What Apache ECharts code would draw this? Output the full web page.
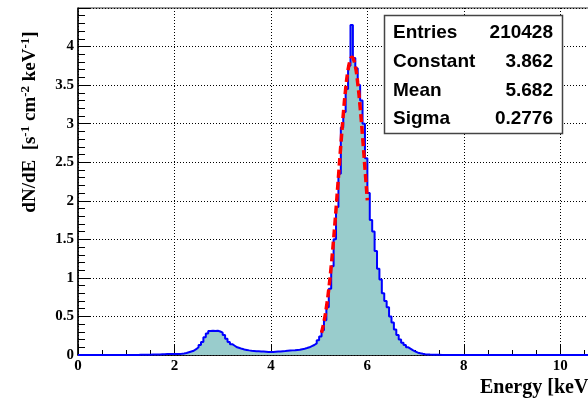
<!DOCTYPE html>
<html>
<head>
<meta charset="utf-8">
<script src="https://cdn.jsdelivr.net/npm/echarts@6/dist/echarts.min.js"></script>
<style>
  html, body { margin: 0; padding: 0; background: #fff; }
  #chart { width: 588px; height: 398px; }
</style>
</head>
<body>
<div id="chart"></div>
<script>
// histogram bins: 0.05 keV wide, starting at 0 keV (one row = 1 keV)
const binStart = 0
const binWidth = 0.05
const counts = [
  0, 0, 0, 0, 0, 0, 0, 0, 0, 0, 0, 0, 0, 0, 0, 0, 0, 0, 0, 0,
  0, 0, 0, 0, 0, 0.002, 0.002, 0.003, 0.003, 0.004, 0.005, 0.006, 0.008, 0.008, 0.01, 0.01, 0.012, 0.012, 0.012, 0.012,
  0.012, 0.014, 0.016, 0.02, 0.025, 0.035, 0.045, 0.055, 0.075, 0.1, 0.13, 0.17, 0.23, 0.28, 0.31, 0.315, 0.31, 0.315, 0.305, 0.29,
  0.26, 0.21, 0.17, 0.14, 0.12, 0.1, 0.09, 0.08, 0.072, 0.066, 0.06, 0.056, 0.053, 0.05, 0.048, 0.046, 0.044, 0.042, 0.04, 0.04,
  0.04, 0.042, 0.044, 0.046, 0.05, 0.052, 0.055, 0.058, 0.06, 0.062, 0.065, 0.068, 0.075, 0.082, 0.09, 0.1, 0.115, 0.13, 0.15, 0.19,
  0.24, 0.32, 0.45, 0.62, 0.86, 1.15, 1.5, 1.92, 2.35, 2.95, 3.15, 3.45, 3.75, 4.28, 3.85, 3.72, 3.5, 3.3, 3.0, 2.55,
  2.1, 1.75, 1.6, 1.35, 1.12, 0.98, 0.8, 0.7, 0.62, 0.5, 0.42, 0.33, 0.26, 0.2, 0.16, 0.13, 0.1, 0.08, 0.06, 0.045,
  0.03, 0.022, 0.015, 0.01, 0.007, 0.005, 0.004, 0.003, 0.002, 0.002, 0, 0, 0, 0, 0, 0, 0, 0, 0, 0,
  0, 0, 0, 0, 0, 0, 0, 0, 0, 0, 0, 0, 0, 0, 0, 0, 0, 0, 0, 0,
  0, 0, 0, 0, 0, 0, 0, 0, 0, 0, 0, 0, 0, 0, 0, 0, 0, 0, 0, 0,
  0, 0, 0, 0, 0, 0, 0, 0, 0, 0, 0, 0, 0, 0, 0, 0, 0, 0, 0, 0
]

// gaussian fit curve (red dashed)
const fitE = [5.05, 5.1, 5.15, 5.2, 5.25, 5.3, 5.35, 5.4, 5.45, 5.5, 5.55, 5.6, 5.65, 5.682, 5.7, 5.75, 5.8, 5.85, 5.9, 5.95, 6.0]
const fitY = [0.289, 0.429, 0.616, 0.855, 1.151, 1.498, 1.889, 2.305, 2.724, 3.115, 3.449, 3.697, 3.836, 3.862, 3.854, 3.748, 3.528, 3.216, 2.837, 2.424, 2.004]

// stats box
const statNames = ['Entries', 'Constant', 'Mean', 'Sigma']
const statValues = ['210428', '3.862', '5.682', '0.2776']

const xMin = 0
const xMax = 11
const yMin = 0
const yMax = 4.5

const serif = '"Liberation Serif", "DejaVu Serif", serif'
const sans = '"Liberation Sans", Arial, sans-serif'

let histData = counts.map((v, i) => [+(binStart + i * binWidth).toFixed(2), v])
histData.push([+(binStart + counts.length * binWidth).toFixed(2), counts[counts.length - 1]])
const fitData = fitE.map((e, i) => [e, fitY[i]])

const chartInstance = echarts.init(document.getElementById('chart'))

const statRowY = [33, 62, 91, 119]
let statGraphics = [{
  type: 'rect',
  shape: { x: 384.5, y: 15.5, width: 178, height: 118 },
  style: { fill: '#fff', stroke: '#444', lineWidth: 1.5 },
  z: 100
}]
statNames.forEach((name, i) => {
  statGraphics.push({
    type: 'text', x: 393, y: statRowY[i], z: 101,
    style: { text: name, font: 'bold 19px ' + sans, fill: '#000', align: 'left', verticalAlign: 'middle', textAlign: 'left', textVerticalAlign: 'middle' }
  })
  statGraphics.push({
    type: 'text', x: 553, y: statRowY[i], z: 101,
    style: { text: statValues[i], font: 'bold 19px ' + sans, fill: '#000', align: 'right', verticalAlign: 'middle', textAlign: 'right', textVerticalAlign: 'middle' }
  })
})

const option = {
  animation: false,
  backgroundColor: '#fff',
  grid: {
    left: 78,
    top: 8,
    width: 530.5,
    height: 347,
    containLabel: false,
    outerBoundsMode: 'none',
    show: true,
    borderColor: '#333',
    borderWidth: 1
  },
  xAxis: {
    type: 'value',
    min: xMin,
    max: xMax,
    interval: 2,
    axisLine: { show: true, onZero: false, lineStyle: { color: '#000', width: 1.5 } },
    axisTick: { show: true, inside: true, length: 10, lineStyle: { color: '#000' } },
    minorTick: { show: true, splitNumber: 4, length: 5, lineStyle: { color: '#000' } },
    axisLabel: { color: '#000', fontFamily: serif, fontWeight: 'bold', fontSize: 15, margin: 4, showMaxLabel: false },
    splitLine: { show: true, lineStyle: { color: '#000', type: [1, 2], width: 1 } }
  },
  yAxis: {
    type: 'value',
    min: yMin,
    max: yMax,
    interval: 0.5,
    axisLine: { show: true, onZero: false, lineStyle: { color: '#000', width: 1.5 } },
    axisTick: { show: true, inside: true, length: 12, lineStyle: { color: '#000' } },
    minorTick: { show: true, splitNumber: 5, length: 7, lineStyle: { color: '#000' } },
    axisLabel: { color: '#000', fontFamily: serif, fontWeight: 'bold', fontSize: 15, margin: 4, showMaxLabel: false },
    splitLine: { show: true, lineStyle: { color: '#000', type: [1, 2], width: 1 } }
  },
  series: [
    {
      type: 'line',
      data: histData,
      step: 'end',
      showSymbol: false,
      lineStyle: { color: '#0000ff', width: 2 },
      areaStyle: { color: '#99cccc', opacity: 1 },
      z: 3
    },
    {
      type: 'line',
      data: fitData,
      smooth: true,
      showSymbol: false,
      lineStyle: { color: '#ff0000', width: 3.5, type: [8, 4] },
      z: 4
    }
  ],
  graphic: [
    {
      type: 'text', x: 595, y: 388,
      style: { text: 'Energy [keV]', font: 'bold 20px ' + serif, fill: '#000', align: 'right', verticalAlign: 'middle', textAlign: 'right', textVerticalAlign: 'middle' }
    },
    {
      type: 'text', x: 30, y: 122, rotation: Math.PI / 2,
      style: {
        text: '{b|dN/dE  [s}{s|-1}{b| cm}{s|-2}{b| keV}{s|-1}{b|]}',
        align: 'center', verticalAlign: 'middle', textAlign: 'center', textVerticalAlign: 'middle',
        fill: '#000',
        rich: {
          b: { font: 'bold 19px ' + serif, lineHeight: 22, fill: '#000' },
          s: { font: 'bold 13px ' + serif, lineHeight: 14, verticalAlign: 'top', fill: '#000' }
        }
      }
    }
  ].concat(statGraphics)
}

chartInstance.setOption(option)
</script>
</body>
</html>
